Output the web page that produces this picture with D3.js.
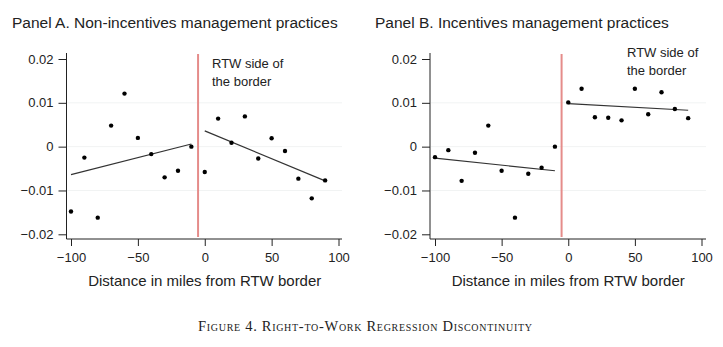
<!DOCTYPE html>
<html>
<head>
<meta charset="utf-8">
<script src="https://cdn.jsdelivr.net/npm/d3@7"></script>
<style>
  body { margin: 0; background: #fff; }
  text { font-family: "Liberation Sans", Arial, sans-serif; fill: #222; }
</style>
</head>
<body>
<svg id="mainsvg" width="723" height="347"></svg>
<script>
// distance bins (miles from border)
const distances = [-100, -90, -80, -70, -60, -50, -40, -30, -20, -10, 0, 10, 20, 30, 40, 50, 60, 70, 80, 90];

// panel A: non-incentives practices
const valuesA = [-0.0148, -0.0025, -0.0162, 0.0048, 0.0121, 0.0020, -0.0017, -0.0070, -0.0055, 0.0000,
                 -0.0058, 0.0064, 0.0009, 0.0069, -0.0027, 0.0019, -0.0010, -0.0073, -0.0118, -0.0077];
const fitA = [[-100, -0.0064], [-10, 0.0006], [0, 0.0036], [90, -0.0078]];

// panel B: incentives practices
const valuesB = [-0.0024, -0.0008, -0.0078, -0.0014, 0.0048, -0.0055, -0.0162, -0.0062, -0.0048, 0.0000,
                 0.0101, 0.0132, 0.0067, 0.0066, 0.0060, 0.0132, 0.0074, 0.0124, 0.0086, 0.0065];
const fitB = [[-100, -0.0026], [-10, -0.0055], [0, 0.0098], [90, 0.0083]];

const xTicks = [-100, -50, 0, 50, 100];
const yTicks = [-0.02, -0.01, 0, 0.01, 0.02];
const borderX = -5;

const svg = d3.select('#mainsvg');

const panels = [
  {title: 'Panel A. Non-incentives management practices', values: valuesA, fit: fitA,
   left: 66.5, x0: 71, x1: 338.5, axisEnd: 342, titleX: 12, noteX: 212, noteY: 68},
  {title: 'Panel B. Incentives management practices', values: valuesB, fit: fitB,
   left: 430, x0: 435, x1: 701.5, axisEnd: 706, titleX: 375, noteX: 627, noteY: 57}
];

const fmt = d => d === 0 ? '0' : d3.format('.2f')(d).replace('-', '\u2212');
const fmtX = d => String(d).replace('-', '\u2212');

panels.forEach(p => {
  const x = d3.scaleLinear().domain([-100, 100]).range([p.x0, p.x1]);
  const y = d3.scaleLinear().domain([-0.02, 0.02]).range([234.3, 59]);
  const g = svg.append('g');

  // faint grid
  g.selectAll('.grid').data(yTicks.slice(1, 4)).join('line')
    .attr('x1', p.left + 1).attr('x2', p.axisEnd)
    .attr('y1', d => y(d)).attr('y2', d => y(d))
    .attr('stroke', '#f1f3f3').attr('stroke-width', 1);

  // y axis
  const yAxis = g.append('g').attr('transform', `translate(${p.left},0)`)
    .call(d3.axisLeft(y).tickValues(yTicks).tickFormat(fmt).tickSize(8).tickPadding(5));
  yAxis.select('.domain').attr('d', `M0,53V239`);

  // x axis
  const xAxis = g.append('g').attr('transform', 'translate(0,239)')
    .call(d3.axisBottom(x).tickValues(xTicks).tickFormat(fmtX).tickSize(7).tickPadding(7));
  xAxis.select('.domain').attr('d', `M${p.left},0H${p.axisEnd}`);

  [yAxis, xAxis].forEach(a => {
    a.selectAll('path, line').attr('stroke', '#222').attr('stroke-width', 1);
    a.selectAll('text').attr('font-size', 13).attr('fill', '#222')
      .style('font-family', '"Liberation Sans", Arial, sans-serif');
  });

  // border line
  g.append('line')
    .attr('x1', x(borderX)).attr('x2', x(borderX))
    .attr('y1', 54).attr('y2', 237)
    .attr('stroke', '#e58c8a').attr('stroke-width', 2);

  // fit lines
  [p.fit.slice(0, 2), p.fit.slice(2, 4)].forEach(seg => {
    g.append('path')
      .attr('d', d3.line().x(d => x(d[0])).y(d => y(d[1]))(seg))
      .attr('fill', 'none').attr('stroke', '#333').attr('stroke-width', 1.2);
  });

  // dots
  g.selectAll('.dot').data(distances).join('circle')
    .attr('cx', d => x(d)).attr('cy', (d, i) => y(p.values[i]))
    .attr('r', 2.2).attr('fill', '#000');

  // titles
  g.append('text').attr('x', p.titleX).attr('y', 28)
    .attr('font-size', 15.5).text(p.title);
  g.append('text').attr('x', (p.x0 + p.x1) / 2).attr('y', 285.5)
    .attr('text-anchor', 'middle').attr('font-size', 15)
    .text('Distance in miles from RTW border');

  const note = g.append('text').attr('x', p.noteX).attr('y', p.noteY).attr('font-size', 13);
  note.append('tspan').attr('x', p.noteX).text('RTW side of');
  note.append('tspan').attr('x', p.noteX).attr('dy', 17.5).text('the border');
});

svg.append('text').attr('x', 198).attr('y', 331)
  .attr('font-size', 14.5)
  .attr('textLength', 334).attr('lengthAdjust', 'spacing')
  .style('font-family', '"Liberation Serif", "Times New Roman", serif')
  .style('font-variant', 'small-caps')
  .text('Figure 4. Right-to-Work Regression Discontinuity');
</script>
</body>
</html>
